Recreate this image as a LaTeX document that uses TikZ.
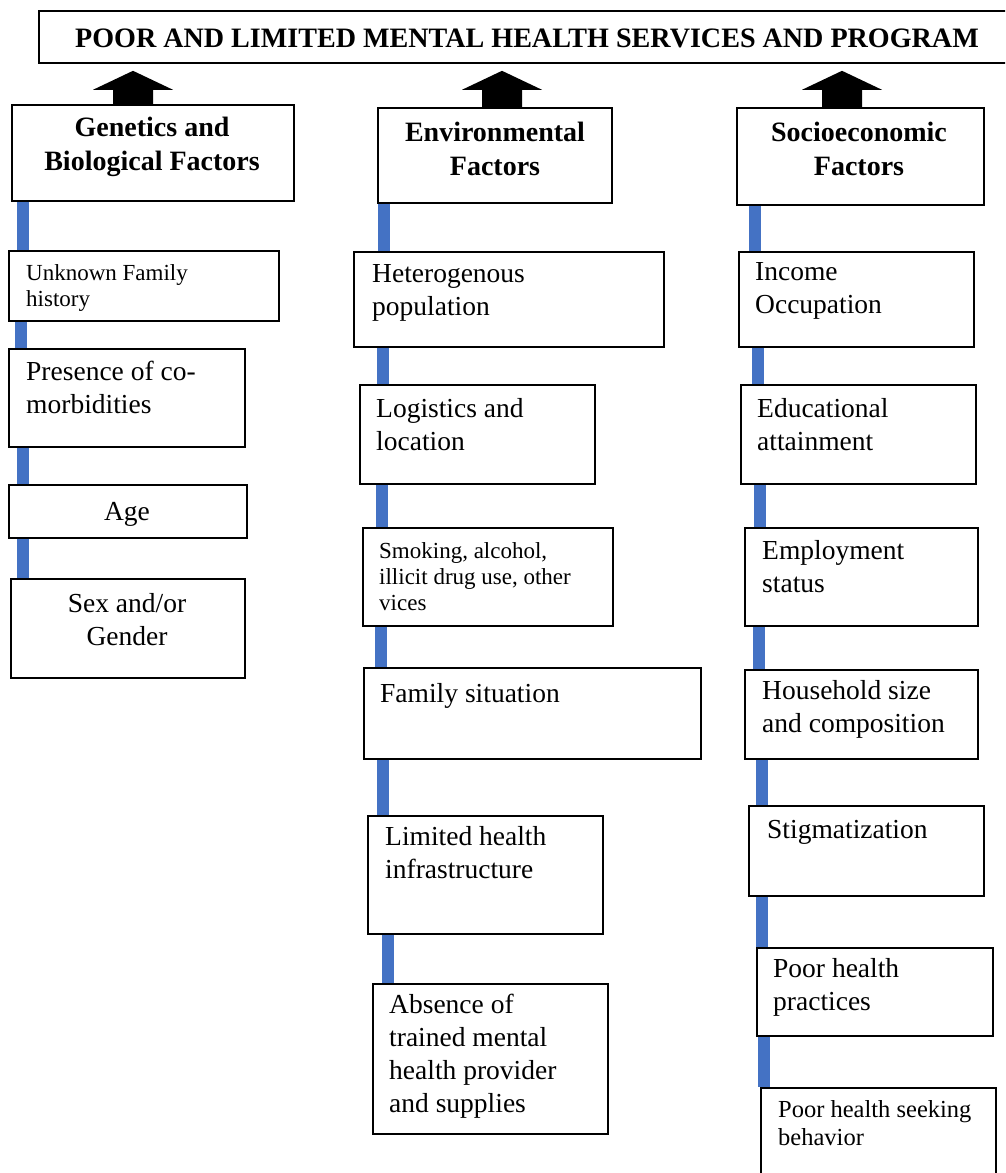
\documentclass[tikz,border=0pt]{standalone}
\usepackage{fontspec}
\setmainfont{Liberation Serif}
\usetikzlibrary{calc}
\definecolor{barblue}{RGB}{68,114,196}
\tikzset{
 box/.style={draw=black, line width=1.8pt, fill=white, inner sep=0pt, anchor=north west},
 txt/.style={inner sep=0pt, anchor=base west, align=left, font=\fontsize{27.5}{32.5}\selectfont},
 txtc/.style={inner sep=0pt, anchor=base, align=center, font=\fontsize{27.5}{32.5}\selectfont},
 smalltxt/.style={font=\fontsize{23}{26}\selectfont},
 headtxt/.style={inner sep=0pt, anchor=base, align=center, font=\fontsize{28}{34}\selectfont\bfseries},
 bar/.style={draw=barblue, line width=12pt},
 blockarrow/.style={fill=black},
}
% note: for multi-line nodes the base anchor is the baseline of the LAST line
\newcommand\bbox[5]{\node[box, minimum width={#4-#2}, minimum height={#5-#3}] (#1) at (#2,#3) {};}
\newcommand\vbar[3]{\draw[bar] (#1,0 |- #2.south) -- (#1,0 |- #3.north);}
\newcommand\blockup[3]{%
 \coordinate (#2-b) at (#1,0 |- #2.north);
 \coordinate (#2-t) at ($(#1,0 |- #3.south)+(0,7)$);
 \fill[blockarrow] ($(#2-b)+(-20,0)$) -- ($(#2-t)+(-20,19)$) -- ($(#2-t)+(-40,19)$) -- (#2-t)
   -- ($(#2-t)+(40,19)$) -- ($(#2-t)+(20,19)$) -- ($(#2-b)+(20,0)$) -- cycle;}
\begin{document}
\begin{tikzpicture}[x=1pt,y=-1pt]
\useasboundingbox (0,0) rectangle (1005,1173);
\clip (0,0) rectangle (1005,1173);
\fill[white] (0,0) rectangle (1005,1173);
% title
\bbox{title}{38}{10}{1016}{62}
\node[inner sep=0pt, anchor=base, font=\fontsize{28.1}{33}\selectfont\bfseries] (tt) at (527,47) {POOR AND LIMITED MENTAL HEALTH SERVICES AND PROGRAM};
% headers
\bbox{g}{11}{104}{293}{200}
\bbox{e}{377}{107}{611}{202}
\bbox{s}{736}{107}{983}{204}
\node[headtxt] (gt) at (152,170) {Genetics and\\Biological Factors};
\node[headtxt] (et) at (495,175) {Environmental\\Factors};
\node[headtxt] (st) at (859,175) {Socioeconomic\\Factors};
\blockup{133}{g}{title}
\blockup{502}{e}{title}
\blockup{842}{s}{title}
% left column
\bbox{l1}{8}{250}{278}{320}
\bbox{l2}{8}{348}{244}{446}
\bbox{l3}{8}{484}{246}{537}
\bbox{l4}{10}{578}{244}{677}
% middle column
\bbox{m1}{353}{251}{663}{346}
\bbox{m2}{359}{384}{594}{483}
\bbox{m3}{362}{527}{612}{625}
\bbox{m4}{363}{667}{700}{758}
\bbox{m5}{367}{815}{602}{933}
\bbox{m6}{372}{983}{607}{1133}
% right column
\bbox{r1}{738}{251}{973}{346}
\bbox{r2}{740}{384}{975}{483}
\bbox{r3}{744}{527}{977}{625}
\bbox{r4}{744}{669}{977}{758}
\bbox{r5}{748}{805}{983}{895}
\bbox{r6}{756}{947}{992}{1035}
\bbox{r7}{760}{1087}{995}{1190}
% bars
\vbar{22.5}{g}{l1}
\vbar{21}{l1}{l2}
\vbar{23}{l2}{l3}
\vbar{23}{l3}{l4}
\vbar{383.5}{e}{m1}
\vbar{383}{m1}{m2}
\vbar{381.5}{m2}{m3}
\vbar{381}{m3}{m4}
\vbar{383}{m4}{m5}
\vbar{387.5}{m5}{m6}
\vbar{755}{s}{r1}
\vbar{757.5}{r1}{r2}
\vbar{760}{r2}{r3}
\vbar{759}{r3}{r4}
\vbar{761.5}{r4}{r5}
\vbar{762}{r5}{r6}
\vbar{763.5}{r6}{r7}
% texts left
\node[txt, smalltxt] (l1t) at (26,306) {Unknown Family\\history};
\node[txt] (l2t) at (26,413) {Presence of co-\\morbidities};
\node[txtc] (l3t) at (127,520) {Age};
\node[txtc] (l4t) at (127,645) {Sex and/or\\Gender};
% texts middle
\node[txt] (m1t) at (372,315) {Heterogenous\\population};
\node[txt] (m2t) at (376,450) {Logistics and\\location};
\node[txt, smalltxt] (m3t) at (379,610) {Smoking, alcohol,\\illicit drug use, other\\vices};
\node[txt] (m4t) at (380,702) {Family situation};
\node[txt] (m5t) at (385,878) {Limited health\\infrastructure};
\node[txt, font=\fontsize{27.5}{33}\selectfont] (m6t) at (389,1112) {Absence of\\trained mental\\health provider\\and supplies};
% texts right
\node[txt] (r1t) at (755,313) {Income\\Occupation};
\node[txt] (r2t) at (757,450) {Educational\\attainment};
\node[txt] (r3t) at (762,592) {Employment\\status};
\node[txt] (r4t) at (762,732) {Household size\\and composition};
\node[txt] (r5t) at (767,838) {Stigmatization};
\node[txt] (r6t) at (773,1010) {Poor health\\practices};
\node[txt, font=\fontsize{24.5}{28}\selectfont] (r7t) at (778,1145) {Poor health seeking\\behavior};
\end{tikzpicture}
\end{document}
